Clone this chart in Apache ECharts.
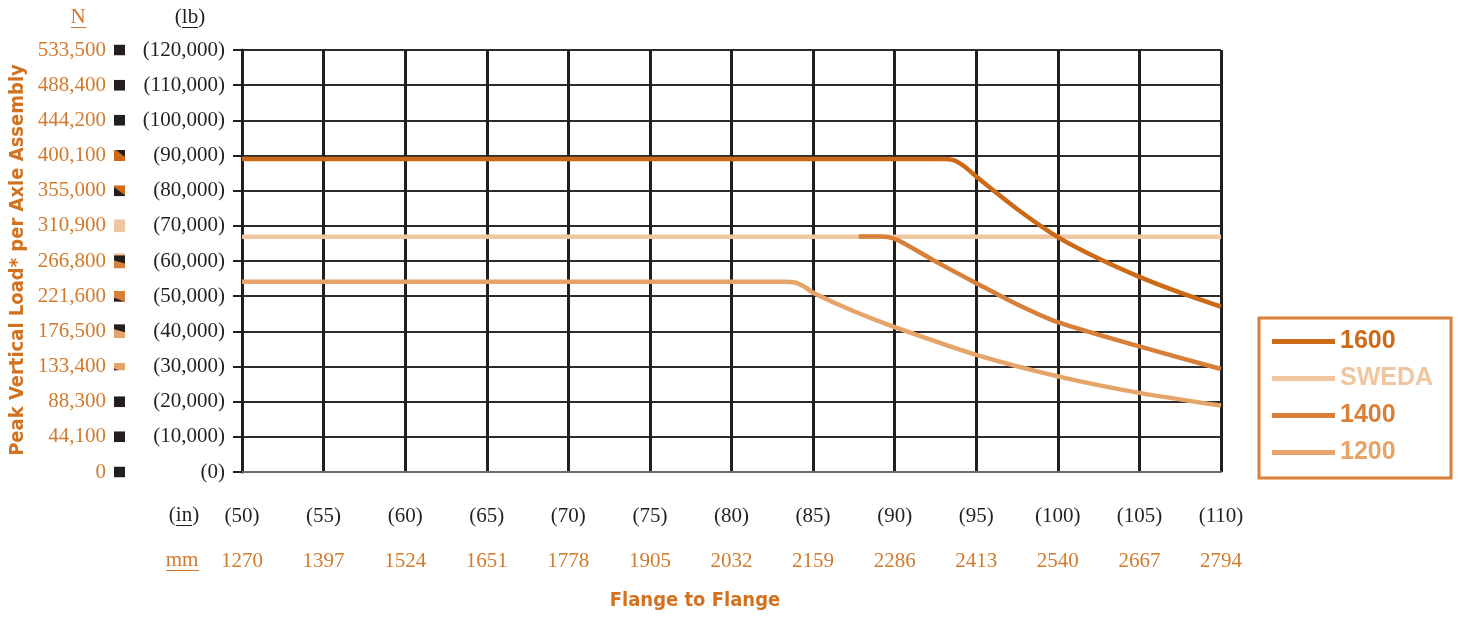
<!DOCTYPE html>
<html>
<head>
<meta charset="utf-8">
<script src="https://cdn.jsdelivr.net/npm/echarts@6/dist/echarts.min.js"></script>
<style>
html,body{margin:0;padding:0;background:#fff;}
#chart{width:1458px;height:617px;}
</style>
</head>
<body>
<div id="chart"></div>
<script>
// ---------- data ----------
const inchTicks = [50, 55, 60, 65, 70, 75, 80, 85, 90, 95, 100, 105, 110];
const mmTicks = [1270, 1397, 1524, 1651, 1778, 1905, 2032, 2159, 2286, 2413, 2540, 2667, 2794];
const lbTicks = ['(0)', '(10,000)', '(20,000)', '(30,000)', '(40,000)', '(50,000)', '(60,000)', '(70,000)', '(80,000)', '(90,000)', '(100,000)', '(110,000)', '(120,000)'];
const nTicks = ['0', '44,100', '88,300', '133,400', '176,500', '221,600', '266,800', '310,900', '355,000', '400,100', '444,200', '488,400', '533,500'];
const swatchKeys = ['k', 'k', 'k', 'g', 'f', 'e', 'd', 'c', 'b', 'a', 'k', 'k', 'k'];

const seriesNames = ['1600', 'SWEDA', '1400', '1200'];
const x1600 = [50, 92.8, 93.6, 94.3, 95, 97.5, 100, 102.5, 105, 107.5, 110];
const y1600 = [89000, 89000, 88700, 86800, 84000, 74800, 66800, 60700, 55500, 51000, 47000];
const xSweda = [50, 110];
const ySweda = [66900, 66900];
const x1400 = [87.8, 89.0, 89.6, 90.3, 92.5, 95, 97.5, 100, 105, 110];
const y1400 = [67000, 67000, 66800, 65700, 59900, 53700, 47700, 42600, 35700, 29300];
const x1200 = [50, 83.2, 83.9, 84.5, 85, 87.5, 90, 95, 100, 105, 110];
const y1200 = [54100, 54100, 53900, 52600, 51000, 45700, 41200, 33300, 27200, 22500, 18900];

// ---------- styling ----------
const colors = {'1600': '#cc6a17', 'SWEDA': '#efc6a0', '1400': '#d8803a', '1200': '#e6a468'};
const orangeText = '#d27a2c';
const serif = "'Liberation Serif', 'DejaVu Serif', serif";
const condBoldFont = "bold 20px 'Liberation Sans Narrow', 'DejaVu Sans Condensed', sans-serif";

function svgUri(w, h, body) {
  return 'data:image/svg+xml;charset=utf-8,' + encodeURIComponent(
    "<svg xmlns='http://www.w3.org/2000/svg' width='" + w + "' height='" + h + "' viewBox='0 0 " + w + " " + h + "'>" + body + "</svg>");
}
const K = '#231f20';
const swatches = {
  k: {h: 11, img: svgUri(11, 11, "<rect width='11' height='11' fill='" + K + "'/>")},
  a: {h: 11, img: svgUri(11, 11, "<rect width='11' height='11' fill='#cc6a17'/><polygon points='2,0 11,0 11,7' fill='" + K + "'/>")},
  b: {h: 11, img: svgUri(11, 11, "<rect width='11' height='11' fill='#cc6a17'/><polygon points='0,2 11,10 11,11 0,11' fill='" + K + "'/>")},
  c: {h: 13, img: svgUri(11, 13, "<rect width='11' height='13' fill='#efc6a0'/>")},
  d: {h: 15, img: svgUri(11, 15, "<rect width='11' height='15' fill='#d8803a'/><rect width='11' height='2' fill='#efc6a0'/><polygon points='0,2 11,2 11,10 0,7' fill='" + K + "'/>")},
  e: {h: 11, img: svgUri(11, 11, "<rect width='11' height='11' fill='#d8803a'/><polygon points='0,7 11,11 0,11' fill='" + K + "'/>")},
  f: {h: 14, img: svgUri(11, 14, "<rect width='11' height='14' fill='#e6a468'/><polygon points='0,0 11,0 11,8 0,5' fill='" + K + "'/>")},
  g: {h: 8, img: svgUri(11, 8, "<rect width='11' height='8' fill='#e6a468'/><polygon points='0,6 5,8 0,8' fill='" + K + "'/>")}
};

const yRich = {
  n: {color: orangeText, fontFamily: serif, fontSize: 21, width: 95, align: 'right', lineHeight: 24},
  sp: {width: 8, height: 11, lineHeight: 24},
  lb: {color: '#231f20', fontFamily: serif, fontSize: 21, width: 100, align: 'right', lineHeight: 24}
};
Object.keys(swatches).forEach(k => {
  yRich['s' + k] = {width: 11, height: swatches[k].h, backgroundColor: {image: swatches[k].img}, lineHeight: 24};
});

function pairs(xs, ys) { return xs.map((x, i) => [x, ys[i]]); }
const seriesData = {
  '1600': pairs(x1600, y1600),
  'SWEDA': pairs(xSweda, ySweda),
  '1400': pairs(x1400, y1400),
  '1200': pairs(x1200, y1200)
};
const drawOrder = ['1200', 'SWEDA', '1400', '1600'];

const chart = echarts.init(document.getElementById('chart'), null, {renderer: 'canvas'});
chart.setOption({
  animation: false,
  backgroundColor: '#ffffff',
  grid: {left: 242, right: 237, top: 50, bottom: 145, containLabel: false, outerBoundsMode: 'none'},
  xAxis: {
    type: 'value', min: 50, max: 110, interval: 5,
    axisLine: {show: true, onZero: false, lineStyle: {color: '#6a6a6a', width: 2}},
    axisTick: {show: false},
    splitLine: {show: true, lineStyle: {color: '#231f20', width: 3}},
    axisLabel: {
      margin: 22,
      showMinLabel: true, showMaxLabel: true,
      formatter: function (v) {
        const i = inchTicks.indexOf(Math.round(v));
        return '{a|(' + inchTicks[i] + ')}\n{b|' + mmTicks[i] + '}';
      },
      rich: {
        a: {color: '#231f20', fontFamily: serif, fontSize: 21, lineHeight: 45},
        b: {color: orangeText, fontFamily: serif, fontSize: 21, lineHeight: 45}
      }
    }
  },
  yAxis: {
    type: 'value', min: 0, max: 120000, interval: 10000,
    axisLine: {show: true, lineStyle: {color: '#231f20', width: 3}},
    axisTick: {show: true, length: 9, lineStyle: {color: '#231f20', width: 2}},
    splitLine: {show: true, lineStyle: {color: '#2e2b2c', width: 2}},
    axisLabel: {
      margin: 17,
      formatter: function (v) {
        const i = Math.round(v / 10000);
        return '{n|' + nTicks[i] + '}{sp|}{s' + swatchKeys[i] + '|}{lb|' + lbTicks[i] + '}';
      },
      rich: yRich
    }
  },
  legend: {
    orient: 'vertical', left: 1259, top: 318,
    padding: [11, 18, 13, 13],
    borderColor: '#d9803a', borderWidth: 3,
    icon: 'rect', itemWidth: 63, itemHeight: 5, itemGap: 12, itemTextGap: 10,
    textStyle: {fontFamily: "'Liberation Sans', Arial, sans-serif", fontWeight: 'bold', fontSize: 25, lineHeight: 24},
    data: seriesNames.map(n => ({name: n, textStyle: {color: colors[n]}})),
    selectedMode: false
  },
  series: drawOrder.map(n => ({
    name: n, type: 'line', data: seriesData[n],
    showSymbol: false, symbol: 'none',
    smooth: 0.3,
    lineStyle: {color: colors[n], width: 4.5, cap: 'butt'},
    itemStyle: {color: colors[n]},
    z: 3
  })),
  graphic: [
    {type: 'text', x: 18, y: 260, rotation: Math.PI / 2, style: {text: 'Peak Vertical Load* per Axle Assembly', x: 0, y: 0, textAlign: 'center', align: 'center', textVerticalAlign: 'middle', verticalAlign: 'middle', font: condBoldFont, fill: '#d2711f'}},
    {type: 'text', style: {text: 'N', x: 78, y: 17, textAlign: 'center', align: 'center', textVerticalAlign: 'middle', verticalAlign: 'middle', font: "21px 'Liberation Serif', serif", fill: orangeText}},
    {type: 'line', shape: {x1: 71, y1: 27.5, x2: 86, y2: 27.5}, style: {stroke: orangeText, lineWidth: 1}},
    {type: 'text', style: {text: '(lb)', x: 190, y: 17, textAlign: 'center', align: 'center', textVerticalAlign: 'middle', verticalAlign: 'middle', font: "21px 'Liberation Serif', serif", fill: '#231f20'}},
    {type: 'line', shape: {x1: 182, y1: 27.5, x2: 198, y2: 27.5}, style: {stroke: '#231f20', lineWidth: 1}},
    {type: 'text', style: {text: '(in)', x: 184, y: 515, textAlign: 'center', align: 'center', textVerticalAlign: 'middle', verticalAlign: 'middle', font: "21px 'Liberation Serif', serif", fill: '#231f20'}},
    {type: 'line', shape: {x1: 176, y1: 525.5, x2: 192, y2: 525.5}, style: {stroke: '#231f20', lineWidth: 1}},
    {type: 'text', style: {text: 'mm', x: 182, y: 560, textAlign: 'center', align: 'center', textVerticalAlign: 'middle', verticalAlign: 'middle', font: "21px 'Liberation Serif', serif", fill: orangeText}},
    {type: 'line', shape: {x1: 166, y1: 570.5, x2: 199, y2: 570.5}, style: {stroke: orangeText, lineWidth: 1}},
    {type: 'text', style: {text: 'Flange to Flange', x: 695, y: 601, textAlign: 'center', align: 'center', textVerticalAlign: 'middle', verticalAlign: 'middle', font: condBoldFont, fill: '#d2711f'}}
  ]
});
</script>
</body>
</html>
